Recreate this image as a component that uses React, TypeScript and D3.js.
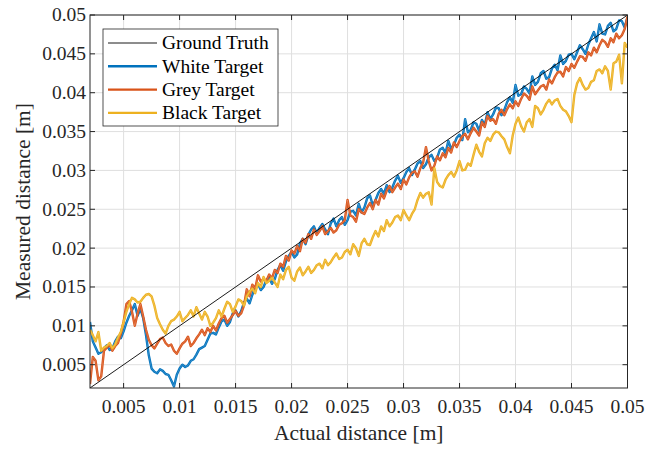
import React from "react";
import * as d3 from "d3";

// sampling grid of actual distance [m]: 0.002 .. 0.05, 193 samples
const actualDistance: number[] = d3.range(193).map((i) => +(0.002 + i * 0.00025).toFixed(5));

const whiteTarget: number[] = [
  0.0105, 0.0080, 0.0072, 0.0064, 0.0066, 0.0071, 0.0075, 0.0069, 0.0071, 0.0080,
  0.0086, 0.0084, 0.0093, 0.0104, 0.0113, 0.0120, 0.0128, 0.0113, 0.0122, 0.0110,
  0.0088, 0.0062, 0.0045, 0.0041, 0.0039, 0.0044, 0.0042, 0.0038, 0.0037, 0.0030,
  0.0022, 0.0037, 0.0045, 0.0050, 0.0047, 0.0049, 0.0055, 0.0057, 0.0063, 0.0070,
  0.0072, 0.0074, 0.0082, 0.0090, 0.0091, 0.0089, 0.0098, 0.0106, 0.0108, 0.0100,
  0.0105, 0.0116, 0.0120, 0.0112, 0.0119, 0.0130, 0.0135, 0.0129, 0.0140, 0.0150,
  0.0154, 0.0146, 0.0150, 0.0159, 0.0162, 0.0154, 0.0160, 0.0172, 0.0178, 0.0171,
  0.0183, 0.0190, 0.0195, 0.0188, 0.0192, 0.0206, 0.0212, 0.0205, 0.0217, 0.0224,
  0.0228, 0.0219, 0.0226, 0.0231, 0.0224, 0.0218, 0.0232, 0.0238, 0.0228, 0.0236,
  0.0240, 0.0230, 0.0236, 0.0247, 0.0248, 0.0242, 0.0257, 0.0246, 0.0252, 0.0264,
  0.0268, 0.0255, 0.0262, 0.0271, 0.0276, 0.0270, 0.0281, 0.0272, 0.0278, 0.0287,
  0.0293, 0.0284, 0.0290, 0.0298, 0.0303, 0.0294, 0.0301, 0.0309, 0.0312, 0.0303,
  0.0308, 0.0317, 0.0320, 0.0312, 0.0316, 0.0327, 0.0329, 0.0322, 0.0338, 0.0328,
  0.0333, 0.0342, 0.0346, 0.0339, 0.0366, 0.0349, 0.0352, 0.0362, 0.0360, 0.0351,
  0.0365, 0.0358, 0.0375, 0.0366, 0.0372, 0.0381, 0.0380, 0.0371, 0.0378, 0.0388,
  0.0394, 0.0387, 0.0410, 0.0396, 0.0398, 0.0408, 0.0405, 0.0399, 0.0421, 0.0410,
  0.0414, 0.0425, 0.0428, 0.0418, 0.0420, 0.0431, 0.0436, 0.0429, 0.0448, 0.0437,
  0.0441, 0.0449, 0.0450, 0.0443, 0.0452, 0.0461, 0.0456, 0.0450, 0.0462, 0.0470,
  0.0478, 0.0466, 0.0488, 0.0476, 0.0475, 0.0486, 0.0490, 0.0479, 0.0482, 0.0493,
  0.0492, 0.0484, 0.0497,
];

const greyTarget: number[] = [
  0.0025, 0.0060, 0.0055, 0.0030, 0.0035, 0.0068, 0.0072, 0.0076, 0.0068, 0.0074,
  0.0078, 0.0090, 0.0105, 0.0128, 0.0132, 0.0118, 0.0100, 0.0116, 0.0128, 0.0112,
  0.0095, 0.0082, 0.0075, 0.0071, 0.0077, 0.0083, 0.0085, 0.0078, 0.0074, 0.0076,
  0.0068, 0.0064, 0.0071, 0.0077, 0.0080, 0.0086, 0.0074, 0.0078, 0.0084, 0.0089,
  0.0095, 0.0088, 0.0097, 0.0092, 0.0100, 0.0094, 0.0103, 0.0110, 0.0113, 0.0104,
  0.0109, 0.0114, 0.0119, 0.0113, 0.0116, 0.0126, 0.0147, 0.0138, 0.0153, 0.0148,
  0.0165, 0.0157, 0.0160, 0.0158, 0.0166, 0.0161, 0.0172, 0.0168, 0.0180, 0.0176,
  0.0190, 0.0184, 0.0197, 0.0193, 0.0203, 0.0196, 0.0212, 0.0207, 0.0218, 0.0212,
  0.0224, 0.0217, 0.0222, 0.0228, 0.0218, 0.0222, 0.0226, 0.0220, 0.0223, 0.0230,
  0.0232, 0.0236, 0.0262, 0.0242, 0.0240, 0.0234, 0.0250, 0.0246, 0.0244, 0.0252,
  0.0258, 0.0250, 0.0262, 0.0256, 0.0270, 0.0264, 0.0274, 0.0280, 0.0272, 0.0278,
  0.0283, 0.0276, 0.0288, 0.0282, 0.0291, 0.0297, 0.0299, 0.0292, 0.0303, 0.0310,
  0.0330, 0.0312, 0.0300, 0.0306, 0.0318, 0.0313, 0.0322, 0.0317, 0.0329, 0.0323,
  0.0336, 0.0330, 0.0338, 0.0344, 0.0347, 0.0340, 0.0348, 0.0355, 0.0350, 0.0345,
  0.0362, 0.0356, 0.0370, 0.0364, 0.0366, 0.0360, 0.0373, 0.0378, 0.0371, 0.0379,
  0.0385, 0.0380, 0.0389, 0.0383, 0.0392, 0.0399, 0.0396, 0.0391, 0.0408, 0.0398,
  0.0403, 0.0408, 0.0410, 0.0404, 0.0417, 0.0412, 0.0420, 0.0426, 0.0427, 0.0421,
  0.0433, 0.0428, 0.0437, 0.0432, 0.0440, 0.0447, 0.0446, 0.0441, 0.0452, 0.0448,
  0.0458, 0.0452, 0.0461, 0.0468, 0.0465, 0.0459, 0.0470, 0.0465, 0.0476, 0.0470,
  0.0474, 0.0482, 0.0498,
];

const blackTarget: number[] = [
  0.0095, 0.0088, 0.0080, 0.0092, 0.0068, 0.0072, 0.0074, 0.0078, 0.0071, 0.0076,
  0.0085, 0.0092, 0.0105, 0.0118, 0.0128, 0.0136, 0.0134, 0.0130, 0.0131, 0.0136,
  0.0140, 0.0141, 0.0138, 0.0126, 0.0110, 0.0102, 0.0095, 0.0090, 0.0100, 0.0106,
  0.0108, 0.0112, 0.0118, 0.0106, 0.0110, 0.0114, 0.0120, 0.0112, 0.0124, 0.0116,
  0.0108, 0.0118, 0.0112, 0.0100, 0.0104, 0.0110, 0.0120, 0.0112, 0.0122, 0.0131,
  0.0128, 0.0118, 0.0125, 0.0134, 0.0132, 0.0126, 0.0138, 0.0144, 0.0148, 0.0142,
  0.0155, 0.0150, 0.0163, 0.0155, 0.0158, 0.0162, 0.0156, 0.0150, 0.0166, 0.0160,
  0.0172, 0.0176, 0.0162, 0.0158, 0.0170, 0.0175, 0.0165, 0.0170, 0.0176, 0.0168,
  0.0172, 0.0178, 0.0180, 0.0174, 0.0185, 0.0178, 0.0182, 0.0188, 0.0193, 0.0186,
  0.0188, 0.0195, 0.0198, 0.0192, 0.0205, 0.0200, 0.0190, 0.0206, 0.0212, 0.0205,
  0.0204, 0.0214, 0.0222, 0.0215, 0.0228, 0.0222, 0.0236, 0.0228, 0.0233, 0.0240,
  0.0242, 0.0236, 0.0249, 0.0242, 0.0236, 0.0244, 0.0250, 0.0262, 0.0271, 0.0265,
  0.0270, 0.0272, 0.0256, 0.0303, 0.0285, 0.0280, 0.0278, 0.0288, 0.0294, 0.0298,
  0.0292, 0.0300, 0.0312, 0.0300, 0.0301, 0.0309, 0.0306, 0.0320, 0.0333, 0.0324,
  0.0318, 0.0335, 0.0342, 0.0338, 0.0346, 0.0350, 0.0349, 0.0344, 0.0340, 0.0330,
  0.0322, 0.0345, 0.0360, 0.0368, 0.0357, 0.0350, 0.0362, 0.0366, 0.0356, 0.0383,
  0.0380, 0.0372, 0.0378, 0.0386, 0.0391, 0.0385, 0.0390, 0.0392, 0.0383, 0.0378,
  0.0376, 0.0370, 0.0362, 0.0397, 0.0412, 0.0419, 0.0410, 0.0404, 0.0406, 0.0414,
  0.0416, 0.0428, 0.0430, 0.0425, 0.0434, 0.0428, 0.0404, 0.0438, 0.0440, 0.0449,
  0.0412, 0.0464, 0.0458,
];

const groundTruth: number[] = [0.002, 0.05];

const tickValues: number[] = [0.005, 0.01, 0.015, 0.02, 0.025, 0.03, 0.035, 0.04, 0.045, 0.05];
const tickLabels: string[] = ["0.005", "0.01", "0.015", "0.02", "0.025", "0.03", "0.035", "0.04", "0.045", "0.05"];

const seriesNames: string[] = ["Ground Truth", "White Target", "Grey Target", "Black Target"];
const seriesColors: string[] = ["#000000", "#0072BD", "#D95319", "#EDB120"];

const W = 645;
const H = 449;
const L = 90;
const R = 627.5;
const T = 15;
const B = 388;
const FONT = "'Liberation Serif', 'Times New Roman', serif";
const AX = "#262626";

export default function App() {
  const x = d3.scaleLinear().domain([0.002, 0.05]).range([L, R]);
  const y = d3.scaleLinear().domain([0.002, 0.05]).range([B, T]);

  const line = d3
    .line<[number, number]>()
    .x((d) => x(d[0]))
    .y((d) => y(d[1]));

  const measured = [whiteTarget, greyTarget, blackTarget];
  const paths = measured.map((vals) =>
    line(vals.map((v, i) => [actualDistance[i], v] as [number, number])) || ""
  );
  const truthPath = line(groundTruth.map((v) => [v, v] as [number, number])) || "";

  const tickLen = 5;

  return (
    <svg
      width={W}
      height={H}
      style={{ position: "absolute", left: 0, top: 0, background: "#fff" }}
      fontFamily={FONT}
    >
      <defs>
        <clipPath id="plotclip">
          <rect x={L} y={T} width={R - L} height={B - T} />
        </clipPath>
      </defs>
      <rect x={0} y={0} width={W} height={H} fill="#fff" />
      {tickValues.map((t) => (
        <g key={"g" + t}>
          <line x1={x(t)} x2={x(t)} y1={T} y2={B} stroke="#dfdfdf" strokeWidth={1} />
          <line x1={L} x2={R} y1={y(t)} y2={y(t)} stroke="#dfdfdf" strokeWidth={1} />
        </g>
      ))}
      <g clipPath="url(#plotclip)" fill="none" strokeLinejoin="round">
        {paths.map((p, k) => (
          <g key={"s" + k}>
            <path d={p} stroke={seriesColors[k + 1]} strokeWidth={2.4} />
            <path d={p} stroke="#ffffff" strokeOpacity={0.3} strokeWidth={0.6} />
          </g>
        ))}
        <path d={truthPath} stroke="#000" strokeWidth={0.9} />
      </g>
      <rect x={L} y={T} width={R - L} height={B - T} fill="none" stroke={AX} strokeWidth={1} />
      {tickValues.map((t) => (
        <g key={"t" + t} stroke={AX} strokeWidth={1}>
          <line x1={x(t)} x2={x(t)} y1={B} y2={B - tickLen} />
          <line x1={x(t)} x2={x(t)} y1={T} y2={T + tickLen} />
          <line x1={L} x2={L + tickLen} y1={y(t)} y2={y(t)} />
          <line x1={R} x2={R - tickLen} y1={y(t)} y2={y(t)} />
        </g>
      ))}
      {tickValues.map((t, i) => (
        <text key={"xl" + t} x={x(t)} y={413} textAnchor="middle" fontSize={19.5} fill={AX}>
          {tickLabels[i]}
        </text>
      ))}
      {tickValues.map((t, i) => (
        <text
          key={"yl" + t}
          x={86}
          y={y(t)}
          dy="0.33em"
          textAnchor="end"
          fontSize={19.5}
          fill={AX}
        >
          {tickLabels[i]}
        </text>
      ))}
      <text x={(L + R) / 2} y={440} textAnchor="middle" fontSize={21.5} fill={AX}>
        Actual distance [m]
      </text>
      <text
        transform={`translate(30, ${(T + B) / 2}) rotate(-90)`}
        textAnchor="middle"
        fontSize={21.5}
        fill={AX}
      >
        Measured distance [m]
      </text>
      <g>
        <rect x={103} y={29} width={175} height={97} fill="#fff" stroke={AX} strokeWidth={0.8} />
        {seriesNames.map((n, i) => {
          const cy = 43 + i * 23.3;
          return (
            <g key={"lg" + i}>
              <line
                x1={108}
                x2={157}
                y1={cy}
                y2={cy}
                stroke={seriesColors[i]}
                strokeWidth={i === 0 ? 0.9 : 2.4}
              />
              <text x={162} y={cy} dy="0.33em" fontSize={19.5} fill="#000">
                {n}
              </text>
            </g>
          );
        })}
      </g>
    </svg>
  );
}
